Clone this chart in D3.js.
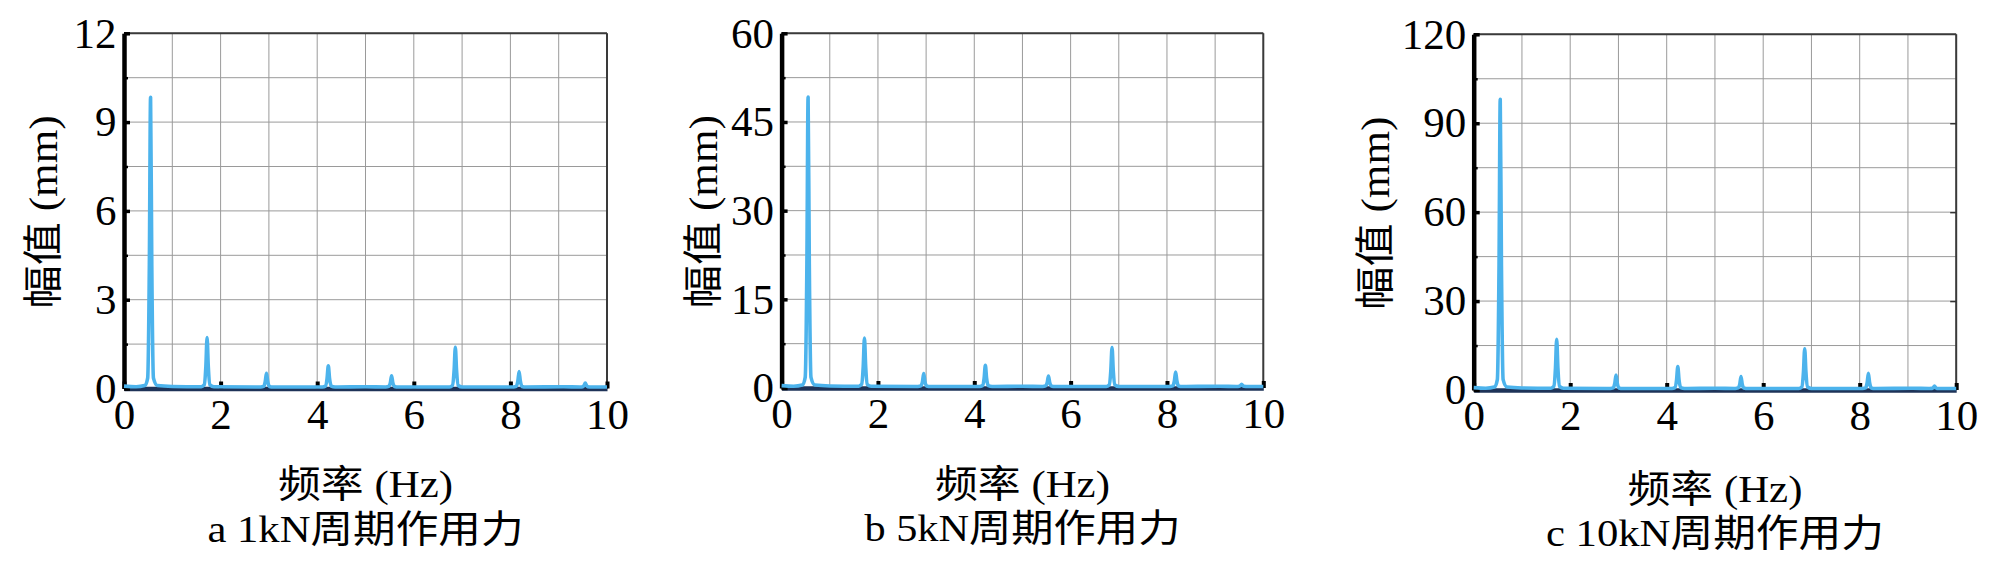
<!DOCTYPE html>
<html>
<head>
<meta charset="utf-8">
<script src="https://cdn.jsdelivr.net/npm/d3@7"></script>
<style>
  html, body { margin: 0; padding: 0; background: #fff; }
  svg { display: block; }
</style>
</head>
<body>
<svg id="chart" width="1999" height="569"></svg>
<script>
// frequency points shared by the three spectra (Hz)
const freq = [0, 0.25,
  0.43, 0.49, 0.525, 0.55, 0.575, 0.61, 0.69,
  1.0,
  1.60, 1.66, 1.695, 1.72, 1.745, 1.78, 1.86,
  2.83, 2.89, 2.925, 2.95, 2.975, 3.01, 3.09,
  4.11, 4.17, 4.205, 4.23, 4.255, 4.29, 4.37,
  5.0,
  5.42, 5.48, 5.515, 5.54, 5.565, 5.60, 5.68,
  6.74, 6.80, 6.835, 6.86, 6.885, 6.92, 7.00,
  8.06, 8.12, 8.155, 8.18, 8.205, 8.24, 8.32,
  9.1,
  9.44, 9.50, 9.525, 9.55, 9.575, 9.60, 9.68,
  10];

// amplitude (mm) for each load case
const amp1kN = [0.08, 0.06,
  0.10, 0.35, 4.2, 9.84, 4.2, 0.35, 0.10,
  0.07,
  0.06, 0.12, 0.75, 1.72, 0.75, 0.12, 0.06,
  0.05, 0.07, 0.24, 0.51, 0.24, 0.07, 0.05,
  0.05, 0.08, 0.35, 0.77, 0.35, 0.08, 0.05,
  0.06,
  0.05, 0.07, 0.20, 0.43, 0.20, 0.07, 0.05,
  0.05, 0.10, 0.62, 1.39, 0.62, 0.10, 0.05,
  0.05, 0.07, 0.26, 0.57, 0.26, 0.07, 0.05,
  0.06,
  0.05, 0.06, 0.10, 0.18, 0.10, 0.06, 0.05,
  0.05];

const amp5kN = [0.4, 0.3,
  0.5, 1.8, 21, 49.2, 21, 1.8, 0.5,
  0.35,
  0.3, 0.6, 3.7, 8.46, 3.7, 0.6, 0.3,
  0.25, 0.35, 1.1, 2.44, 1.1, 0.35, 0.25,
  0.25, 0.4, 1.7, 3.84, 1.7, 0.4, 0.25,
  0.3,
  0.25, 0.35, 0.95, 2.03, 0.95, 0.35, 0.25,
  0.25, 0.5, 3.0, 6.84, 3.0, 0.5, 0.25,
  0.25, 0.35, 1.25, 2.71, 1.25, 0.35, 0.25,
  0.3,
  0.25, 0.3, 0.4, 0.63, 0.4, 0.3, 0.25,
  0.25];

const amp10kN = [0.8, 0.6,
  1.0, 3.5, 42, 98.1, 42, 3.5, 1.0,
  0.7,
  0.6, 1.2, 7.5, 17.1, 7.5, 1.2, 0.6,
  0.5, 0.7, 2.3, 5.06, 2.3, 0.7, 0.5,
  0.5, 0.8, 3.5, 7.87, 3.5, 0.8, 0.5,
  0.6,
  0.5, 0.7, 2.0, 4.5, 2.0, 0.7, 0.5,
  0.5, 1.0, 6.2, 13.9, 6.2, 1.0, 0.5,
  0.5, 0.7, 2.5, 5.6, 2.5, 0.7, 0.5,
  0.6,
  0.5, 0.55, 0.8, 1.3, 0.8, 0.55, 0.5,
  0.5];

// tick labels
const xTicks = [0, 2, 4, 6, 8, 10];
const yTicks1kN = [0, 3, 6, 9, 12];
const yTicks5kN = [0, 15, 30, 45, 60];
const yTicks10kN = [0, 30, 60, 90, 120];

const captions = ["a 1kN周期作用力", "b 5kN周期作用力", "c 10kN周期作用力"];
const xTitle = "频率 (Hz)";
const yTitle = "幅值 (mm)";

const serif = '"Times New Roman", "Liberation Serif", "Noto Sans CJK SC", serif';
const lineColor = "#4cb3ec";

// panel boxes
const panels = [
  { amp: amp1kN, yTicks: yTicks1kN, caption: captions[0], left: 124, right: 607, top: 33.3, bottom: 388.5, titleX: 57, capLen: 316, rightTicks: false, dy: 0 },
  { amp: amp5kN, yTicks: yTicks5kN, caption: captions[1], left: 781.6, right: 1263.3, top: 33.3, bottom: 388, titleX: 717, capLen: 316, rightTicks: false, dy: 0 },
  { amp: amp10kN, yTicks: yTicks10kN, caption: captions[2], left: 1473.7, right: 1956.2, top: 34.3, bottom: 390, titleX: 1389, capLen: 338, rightTicks: true, dy: 3 }
];

const svg = d3.select("#chart");

panels.forEach(function(p) {
  let yMax = p.yTicks[p.yTicks.length - 1];
  let x = d3.scaleLinear().domain([0, 10]).range([p.left, p.right]);
  let y = d3.scaleLinear().domain([0, yMax]).range([p.bottom, p.top]);
  let g = svg.append("g");

  //Grid lines
  let xGrid = d3.range(0, 10.001, 1);
  let yGrid = d3.range(0, yMax + 1e-9, yMax / 8);
  g.append("g").selectAll("line").data(xGrid).enter().append("line")
    .attr("x1", d => x(d)).attr("x2", d => x(d))
    .attr("y1", p.top).attr("y2", p.bottom)
    .attr("stroke", "#9a9a9a").attr("stroke-width", 1);
  g.append("g").selectAll("line").data(yGrid).enter().append("line")
    .attr("x1", p.left).attr("x2", p.right)
    .attr("y1", d => y(d)).attr("y2", d => y(d))
    .attr("stroke", "#9a9a9a").attr("stroke-width", 1);

  //Top and right frame
  g.append("line").attr("x1", p.left).attr("x2", p.right).attr("y1", p.top).attr("y2", p.top)
    .attr("stroke", "#3a3a3a").attr("stroke-width", 2);
  g.append("line").attr("x1", p.right).attr("x2", p.right).attr("y1", p.top).attr("y2", p.bottom)
    .attr("stroke", "#3a3a3a").attr("stroke-width", 2);

  if (p.rightTicks) {
    let gr = g.append("g").attr("transform", "translate(" + p.right + ",0)")
      .call(d3.axisRight(y).tickValues(p.yTicks.slice(1, -1)).tickSizeInner(-6).tickSizeOuter(0).tickFormat(""));
    gr.select(".domain").remove();
    gr.selectAll(".tick line").attr("stroke", "#333").attr("stroke-width", 1.5);
  }

  //Bottom axis
  let gx = g.append("g").attr("transform", "translate(0," + p.bottom + ")")
    .call(d3.axisBottom(x).tickValues(xTicks).tickSizeInner(-7).tickSizeOuter(0).tickPadding(9.5).tickFormat(d3.format("d")));
  gx.select(".domain").attr("stroke", "#1e3358").attr("stroke-width", 4.5);
  gx.selectAll(".tick line").attr("stroke", "#000").attr("stroke-width", 4);
  gx.selectAll("text").attr("font-size", 43).attr("font-family", serif).attr("fill", "#000");

  //Left axis - minor ticks then major
  let gm = g.append("g").attr("transform", "translate(" + p.left + ",0)")
    .call(d3.axisLeft(y).tickValues(yGrid).tickSizeInner(-4).tickSizeOuter(0).tickFormat(""));
  gm.select(".domain").remove();
  gm.selectAll(".tick line").attr("stroke", "#000").attr("stroke-width", 2.5);

  let gy = g.append("g").attr("transform", "translate(" + p.left + ",0)")
    .call(d3.axisLeft(y).tickValues(p.yTicks).tickSizeInner(-6).tickSizeOuter(0).tickPadding(7.5));
  gy.select(".domain").attr("stroke", "#000").attr("stroke-width", 4.5);
  gy.selectAll(".tick line").attr("stroke", "#000").attr("stroke-width", 3.5);
  gy.selectAll("text").attr("font-size", 43).attr("font-family", serif).attr("fill", "#000").attr("dy", "0.32em");

  //Spectrum line
  let line = d3.line()
    .x((d, i) => x(freq[i]))
    .y(d => y(d))
    .curve(d3.curveMonotoneX);
  g.append("path")
    .datum(p.amp)
    .attr("fill", "none")
    .attr("stroke", lineColor)
    .attr("stroke-width", 3.6)
    .attr("stroke-linejoin", "round")
    .attr("d", line);

  //Axis titles and caption
  let cx = (p.left + p.right) / 2;
  let cy = (p.top + p.bottom) / 2;
  g.append("text")
    .attr("transform", "translate(" + p.titleX + "," + (cy + 1) + ") rotate(-90)")
    .attr("text-anchor", "middle")
    .attr("font-family", serif).attr("font-size", 40)
    .attr("textLength", 193).attr("lengthAdjust", "spacingAndGlyphs")
    .text(yTitle);

  g.append("text")
    .attr("x", cx).attr("y", p.bottom + 108.5 + p.dy)
    .attr("text-anchor", "middle")
    .attr("font-family", serif).attr("font-size", 38)
    .attr("textLength", 175).attr("lengthAdjust", "spacingAndGlyphs")
    .text(xTitle);

  g.append("text")
    .attr("x", cx).attr("y", p.bottom + 153 + p.dy)
    .attr("text-anchor", "middle")
    .attr("font-family", serif).attr("font-size", 38)
    .attr("textLength", p.capLen).attr("lengthAdjust", "spacingAndGlyphs")
    .text(p.caption);
});
</script>
</body>
</html>
